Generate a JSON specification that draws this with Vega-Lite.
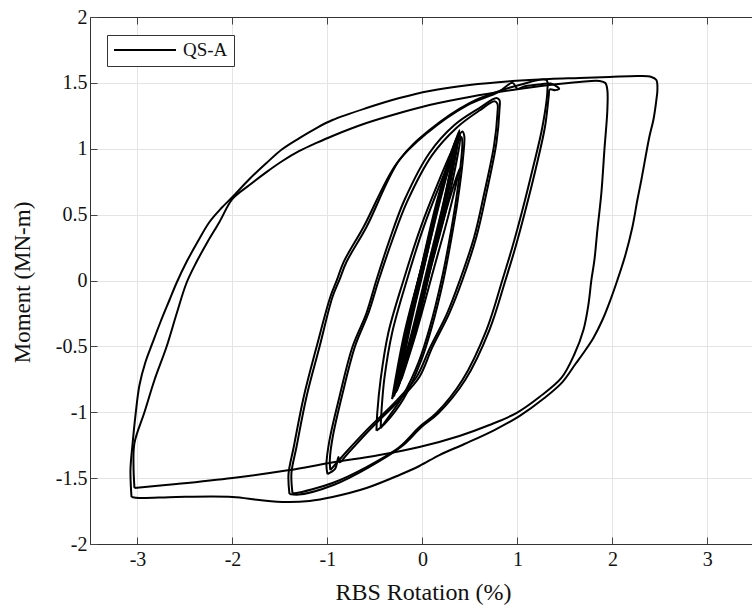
{
  "$schema": "https://vega.github.io/schema/vega-lite/v6.json",
  "width": 662,
  "height": 527,
  "autosize": {"type": "none"},
  "padding": {"left": 90, "top": 17, "right": 0, "bottom": 66},
  "background": "white",
  "config": {"view": {"stroke": null}, "font": "Liberation Serif"},
  "data": {"values": [
    {"l":"b1","x":-0.30,"y":-0.88},{"l":"b1","x":-0.181,"y":-0.4},{"l":"b1","x":-0.010,"y":0.1},{"l":"b1","x":0.161,"y":0.6},{"l":"b1","x":0.39,"y":1.14},{"l":"b1","x":0.251,"y":0.6},{"l":"b1","x":0.080,"y":0.1},{"l":"b1","x":-0.091,"y":-0.4},{"l":"b1","x":-0.30,"y":-0.88},
    {"l":"b2","x":-0.28,"y":-0.85},{"l":"b2","x":-0.165,"y":-0.4},{"l":"b2","x":0.002,"y":0.1},{"l":"b2","x":0.168,"y":0.6},{"l":"b2","x":0.37,"y":1.10},{"l":"b2","x":0.238,"y":0.6},{"l":"b2","x":0.072,"y":0.1},{"l":"b2","x":-0.095,"y":-0.4},{"l":"b2","x":-0.28,"y":-0.85},
    {"l":"b3","x":-0.26,"y":-0.82},{"l":"b3","x":-0.153,"y":-0.4},{"l":"b3","x":0.010,"y":0.1},{"l":"b3","x":0.173,"y":0.6},{"l":"b3","x":0.35,"y":1.05},{"l":"b3","x":0.233,"y":0.6},{"l":"b3","x":0.070,"y":0.1},{"l":"b3","x":-0.093,"y":-0.4},{"l":"b3","x":-0.26,"y":-0.82},
    {"l":"b4","x":-0.24,"y":-0.78},{"l":"b4","x":-0.143,"y":-0.4},{"l":"b4","x":0.017,"y":0.1},{"l":"b4","x":0.177,"y":0.6},{"l":"b4","x":0.33,"y":1.0},{"l":"b4","x":0.227,"y":0.6},{"l":"b4","x":0.067,"y":0.1},{"l":"b4","x":-0.093,"y":-0.4},{"l":"b4","x":-0.24,"y":-0.78},
    {"l":"b5","x":-0.32,"y":-0.90},{"l":"b5","x":-0.19,"y":-0.4},{"l":"b5","x":-0.01,"y":0.1},{"l":"b5","x":0.17,"y":0.6},{"l":"b5","x":0.40,"y":1.10},{"l":"b5","x":0.27,"y":0.6},{"l":"b5","x":0.09,"y":0.1},{"l":"b5","x":-0.09,"y":-0.4},{"l":"b5","x":-0.32,"y":-0.90},
    {"l":"b6","x":-0.22,"y":-0.75},{"l":"b6","x":-0.107,"y":-0.4},{"l":"b6","x":0.084,"y":0.1},{"l":"b6","x":0.236,"y":0.5},{"l":"b6","x":0.39,"y":0.85},{"l":"b6","x":0.276,"y":0.5},{"l":"b6","x":0.124,"y":0.1},{"l":"b6","x":-0.067,"y":-0.4},{"l":"b6","x":-0.22,"y":-0.75},
    {"l":"b7","x":-0.29,"y":-0.86},{"l":"b7","x":-0.154,"y":-0.4},{"l":"b7","x":0.015,"y":0.1},{"l":"b7","x":0.184,"y":0.6},{"l":"b7","x":0.38,"y":1.12},{"l":"b7","x":0.224,"y":0.6},{"l":"b7","x":0.055,"y":0.1},{"l":"b7","x":-0.114,"y":-0.4},{"l":"b7","x":-0.29,"y":-0.86},
    {"l":"b8","x":-0.27,"y":-0.84},{"l":"b8","x":-0.176,"y":-0.4},{"l":"b8","x":-0.012,"y":0.1},{"l":"b8","x":0.152,"y":0.6},{"l":"b8","x":0.36,"y":1.08},{"l":"b8","x":0.252,"y":0.6},{"l":"b8","x":0.088,"y":0.1},{"l":"b8","x":-0.076,"y":-0.4},{"l":"b8","x":-0.27,"y":-0.84},
    {"l":"b9","x":-0.25,"y":-0.80},{"l":"b9","x":-0.160,"y":-0.4},{"l":"b9","x":0.002,"y":0.1},{"l":"b9","x":0.164,"y":0.6},{"l":"b9","x":0.34,"y":1.02},{"l":"b9","x":0.244,"y":0.6},{"l":"b9","x":0.082,"y":0.1},{"l":"b9","x":-0.080,"y":-0.4},{"l":"b9","x":-0.25,"y":-0.80},
    {"l":"E1","x":-0.484,"y":-1.14},{"l":"E1","x":-0.475,"y":-1.0},{"l":"E1","x":-0.44,"y":-0.75},{"l":"E1","x":-0.36,"y":-0.40},{"l":"E1","x":-0.20,"y":0.0},{"l":"E1","x":-0.02,"y":0.40},{"l":"E1","x":0.17,"y":0.75},{"l":"E1","x":0.32,"y":1.0},{"l":"E1","x":0.42,"y":1.13},{"l":"E1","x":0.44,"y":1.10},{"l":"E1","x":0.43,"y":0.95},{"l":"E1","x":0.37,"y":0.60},{"l":"E1","x":0.30,"y":0.30},{"l":"E1","x":0.22,"y":0.0},{"l":"E1","x":0.10,"y":-0.35},{"l":"E1","x":-0.02,"y":-0.62},{"l":"E1","x":-0.20,"y":-0.90},{"l":"E1","x":-0.40,"y":-1.09},{"l":"E1","x":-0.484,"y":-1.14},
    {"l":"E2","x":-0.44,"y":-1.12},{"l":"E2","x":-0.43,"y":-0.98},{"l":"E2","x":-0.40,"y":-0.74},{"l":"E2","x":-0.32,"y":-0.40},{"l":"E2","x":-0.165,"y":0.0},{"l":"E2","x":0.01,"y":0.40},{"l":"E2","x":0.19,"y":0.74},{"l":"E2","x":0.33,"y":0.98},{"l":"E2","x":0.41,"y":1.09},{"l":"E2","x":0.42,"y":1.05},{"l":"E2","x":0.41,"y":0.93},{"l":"E2","x":0.35,"y":0.59},{"l":"E2","x":0.28,"y":0.29},{"l":"E2","x":0.20,"y":0.0},{"l":"E2","x":0.08,"y":-0.35},{"l":"E2","x":-0.04,"y":-0.62},{"l":"E2","x":-0.21,"y":-0.88},{"l":"E2","x":-0.38,"y":-1.06},{"l":"E2","x":-0.44,"y":-1.12},
    {"l":"D1","x":-1.0,"y":-1.469},{"l":"D1","x":-1.011,"y":-1.40},{"l":"D1","x":-0.979,"y":-1.214},{"l":"D1","x":-0.874,"y":-0.884},{"l":"D1","x":-0.737,"y":-0.505},{"l":"D1","x":-0.589,"y":-0.247},{"l":"D1","x":-0.484,"y":0.004},{"l":"D1","x":-0.347,"y":0.307},{"l":"D1","x":-0.189,"y":0.611},{"l":"D1","x":0.074,"y":0.968},{"l":"D1","x":0.337,"y":1.18},{"l":"D1","x":0.6,"y":1.309},{"l":"D1","x":0.779,"y":1.385},{"l":"D1","x":0.811,"y":1.37},{"l":"D1","x":0.811,"y":1.294},{"l":"D1","x":0.779,"y":1.044},{"l":"D1","x":0.674,"y":0.664},{"l":"D1","x":0.568,"y":0.33},{"l":"D1","x":0.421,"y":0.004},{"l":"D1","x":0.284,"y":-0.247},{"l":"D1","x":0.105,"y":-0.505},{"l":"D1","x":-0.032,"y":-0.732},{"l":"D1","x":-0.242,"y":-0.907},{"l":"D1","x":-0.558,"y":-1.135},{"l":"D1","x":-0.80,"y":-1.325},{"l":"D1","x":-0.87,"y":-1.38},{"l":"D1","x":-0.884,"y":-1.34},{"l":"D1","x":-0.92,"y":-1.43},{"l":"D1","x":-1.0,"y":-1.469},
    {"l":"D2","x":-0.97,"y":-1.44},{"l":"D2","x":-0.975,"y":-1.36},{"l":"D2","x":-0.945,"y":-1.19},{"l":"D2","x":-0.845,"y":-0.87},{"l":"D2","x":-0.71,"y":-0.50},{"l":"D2","x":-0.565,"y":-0.24},{"l":"D2","x":-0.46,"y":0.004},{"l":"D2","x":-0.32,"y":0.30},{"l":"D2","x":-0.16,"y":0.60},{"l":"D2","x":0.10,"y":0.95},{"l":"D2","x":0.36,"y":1.16},{"l":"D2","x":0.60,"y":1.29},{"l":"D2","x":0.76,"y":1.36},{"l":"D2","x":0.79,"y":1.34},{"l":"D2","x":0.79,"y":1.27},{"l":"D2","x":0.755,"y":1.03},{"l":"D2","x":0.65,"y":0.66},{"l":"D2","x":0.545,"y":0.33},{"l":"D2","x":0.395,"y":0.004},{"l":"D2","x":0.26,"y":-0.25},{"l":"D2","x":0.08,"y":-0.51},{"l":"D2","x":-0.06,"y":-0.73},{"l":"D2","x":-0.27,"y":-0.91},{"l":"D2","x":-0.58,"y":-1.13},{"l":"D2","x":-0.80,"y":-1.30},{"l":"D2","x":-0.97,"y":-1.44},
    {"l":"C1","x":-1.368,"y":-1.613},{"l":"C1","x":-1.379,"y":-1.46},{"l":"C1","x":-1.326,"y":-1.264},{"l":"C1","x":-1.221,"y":-0.884},{"l":"C1","x":-1.084,"y":-0.505},{"l":"C1","x":-0.947,"y":-0.125},{"l":"C1","x":-0.874,"y":0.004},{"l":"C1","x":-0.8,"y":0.14},{"l":"C1","x":-0.589,"y":0.406},{"l":"C1","x":-0.242,"y":0.915},{"l":"C1","x":0.074,"y":1.142},{"l":"C1","x":0.495,"y":1.347},{"l":"C1","x":0.842,"y":1.446},{"l":"C1","x":1.021,"y":1.484},{"l":"C1","x":1.305,"y":1.522},{"l":"C1","x":1.316,"y":1.446},{"l":"C1","x":1.263,"y":1.165},{"l":"C1","x":1.158,"y":0.839},{"l":"C1","x":1.053,"y":0.535},{"l":"C1","x":0.947,"y":0.254},{"l":"C1","x":0.842,"y":0.004},{"l":"C1","x":0.674,"y":-0.376},{"l":"C1","x":0.421,"y":-0.755},{"l":"C1","x":0.147,"y":-1.006},{"l":"C1","x":-0.032,"y":-1.112},{"l":"C1","x":-0.242,"y":-1.264},{"l":"C1","x":-0.589,"y":-1.416},{"l":"C1","x":-0.947,"y":-1.537},{"l":"C1","x":-1.326,"y":-1.613},{"l":"C1","x":-1.368,"y":-1.613},
    {"l":"C2","x":-1.40,"y":-1.62},{"l":"C2","x":-1.41,"y":-1.47},{"l":"C2","x":-1.355,"y":-1.264},{"l":"C2","x":-1.25,"y":-0.884},{"l":"C2","x":-1.115,"y":-0.505},{"l":"C2","x":-0.97,"y":-0.125},{"l":"C2","x":-0.90,"y":0.004},{"l":"C2","x":-0.83,"y":0.14},{"l":"C2","x":-0.62,"y":0.406},{"l":"C2","x":-0.27,"y":0.89},{"l":"C2","x":0.05,"y":1.12},{"l":"C2","x":0.47,"y":1.33},{"l":"C2","x":0.80,"y":1.43},{"l":"C2","x":0.95,"y":1.50},{"l":"C2","x":1.0,"y":1.455},{"l":"C2","x":1.08,"y":1.475},{"l":"C2","x":1.25,"y":1.49},{"l":"C2","x":1.35,"y":1.495},{"l":"C2","x":1.42,"y":1.47},{"l":"C2","x":1.44,"y":1.455},{"l":"C2","x":1.40,"y":1.445},{"l":"C2","x":1.34,"y":1.45},{"l":"C2","x":1.33,"y":1.40},{"l":"C2","x":1.29,"y":1.165},{"l":"C2","x":1.19,"y":0.839},{"l":"C2","x":1.085,"y":0.535},{"l":"C2","x":0.98,"y":0.254},{"l":"C2","x":0.875,"y":0.004},{"l":"C2","x":0.705,"y":-0.376},{"l":"C2","x":0.45,"y":-0.755},{"l":"C2","x":0.17,"y":-1.006},{"l":"C2","x":-0.01,"y":-1.112},{"l":"C2","x":-0.22,"y":-1.26},{"l":"C2","x":-0.57,"y":-1.42},{"l":"C2","x":-0.93,"y":-1.55},{"l":"C2","x":-1.30,"y":-1.625},{"l":"C2","x":-1.40,"y":-1.62},
    {"l":"B","x":-3.032,"y":-1.575},{"l":"B","x":-3.042,"y":-1.40},{"l":"B","x":-3.032,"y":-1.233},{"l":"B","x":-2.926,"y":-0.998},{"l":"B","x":-2.821,"y":-0.755},{"l":"B","x":-2.695,"y":-0.505},{"l":"B","x":-2.589,"y":-0.254},{"l":"B","x":-2.484,"y":-0.019},{"l":"B","x":-2.379,"y":0.140},{"l":"B","x":-2.263,"y":0.292},{"l":"B","x":-2.137,"y":0.444},{"l":"B","x":-2.0,"y":0.619},{"l":"B","x":-1.821,"y":0.725},{"l":"B","x":-1.642,"y":0.823},{"l":"B","x":-1.474,"y":0.907},{"l":"B","x":-1.295,"y":0.983},{"l":"B","x":-1.116,"y":1.044},{"l":"B","x":-0.947,"y":1.097},{"l":"B","x":-0.589,"y":1.195},{"l":"B","x":-0.242,"y":1.271},{"l":"B","x":0.074,"y":1.332},{"l":"B","x":0.495,"y":1.393},{"l":"B","x":0.947,"y":1.446},{"l":"B","x":1.337,"y":1.484},{"l":"B","x":1.653,"y":1.507},{"l":"B","x":1.863,"y":1.514},{"l":"B","x":1.926,"y":1.499},{"l":"B","x":1.947,"y":1.446},{"l":"B","x":1.947,"y":1.294},{"l":"B","x":1.916,"y":0.991},{"l":"B","x":1.884,"y":0.664},{"l":"B","x":1.842,"y":0.383},{"l":"B","x":1.811,"y":0.156},{"l":"B","x":1.779,"y":0.004},{"l":"B","x":1.747,"y":-0.186},{"l":"B","x":1.695,"y":-0.376},{"l":"B","x":1.6,"y":-0.56},{"l":"B","x":1.463,"y":-0.74},{"l":"B","x":1.232,"y":-0.884},{"l":"B","x":0.989,"y":-1.006},{"l":"B","x":0.705,"y":-1.097},{"l":"B","x":0.389,"y":-1.18},{"l":"B","x":-0.032,"y":-1.264},{"l":"B","x":-0.453,"y":-1.325},{"l":"B","x":-0.979,"y":-1.385},{"l":"B","x":-1.4,"y":-1.439},{"l":"B","x":-2.0,"y":-1.499},{"l":"B","x":-2.589,"y":-1.545},{"l":"B","x":-3.032,"y":-1.575},
    {"l":"A","x":-3.063,"y":-1.643},{"l":"A","x":-3.074,"y":-1.438},{"l":"A","x":-3.053,"y":-1.249},{"l":"A","x":-3.021,"y":-1.021},{"l":"A","x":-2.979,"y":-0.793},{"l":"A","x":-2.916,"y":-0.619},{"l":"A","x":-2.842,"y":-0.474},{"l":"A","x":-2.758,"y":-0.315},{"l":"A","x":-2.663,"y":-0.148},{"l":"A","x":-2.589,"y":-0.019},{"l":"A","x":-2.484,"y":0.140},{"l":"A","x":-2.368,"y":0.292},{"l":"A","x":-2.242,"y":0.444},{"l":"A","x":-2.116,"y":0.550},{"l":"A","x":-2.0,"y":0.634},{"l":"A","x":-1.821,"y":0.771},{"l":"A","x":-1.642,"y":0.892},{"l":"A","x":-1.474,"y":0.998},{"l":"A","x":-1.295,"y":1.081},{"l":"A","x":-1.116,"y":1.157},{"l":"A","x":-0.947,"y":1.218},{"l":"A","x":-0.589,"y":1.309},{"l":"A","x":-0.242,"y":1.385},{"l":"A","x":0.074,"y":1.439},{"l":"A","x":0.495,"y":1.484},{"l":"A","x":0.947,"y":1.514},{"l":"A","x":1.337,"y":1.530},{"l":"A","x":1.653,"y":1.537},{"l":"A","x":1.968,"y":1.545},{"l":"A","x":2.284,"y":1.552},{"l":"A","x":2.411,"y":1.545},{"l":"A","x":2.463,"y":1.522},{"l":"A","x":2.474,"y":1.446},{"l":"A","x":2.463,"y":1.37},{"l":"A","x":2.432,"y":1.22},{"l":"A","x":2.389,"y":1.089},{"l":"A","x":2.305,"y":0.763},{"l":"A","x":2.263,"y":0.611},{"l":"A","x":2.211,"y":0.406},{"l":"A","x":2.137,"y":0.194},{"l":"A","x":2.053,"y":0.004},{"l":"A","x":1.979,"y":-0.148},{"l":"A","x":1.895,"y":-0.300},{"l":"A","x":1.8,"y":-0.436},{"l":"A","x":1.695,"y":-0.550},{"l":"A","x":1.611,"y":-0.634},{"l":"A","x":1.474,"y":-0.771},{"l":"A","x":1.284,"y":-0.892},{"l":"A","x":1.021,"y":-1.029},{"l":"A","x":0.758,"y":-1.135},{"l":"A","x":0.442,"y":-1.241},{"l":"A","x":0.179,"y":-1.325},{"l":"A","x":-0.032,"y":-1.408},{"l":"A","x":-0.242,"y":-1.476},{"l":"A","x":-0.589,"y":-1.575},{"l":"A","x":-0.947,"y":-1.643},{"l":"A","x":-1.19,"y":-1.673},{"l":"A","x":-1.432,"y":-1.681},{"l":"A","x":-1.716,"y":-1.666},{"l":"A","x":-2.0,"y":-1.643},{"l":"A","x":-2.59,"y":-1.643},{"l":"A","x":-2.98,"y":-1.651},{"l":"A","x":-3.063,"y":-1.643}
  ]},
  "resolve": {"axis": {"x": "independent", "y": "independent"}},
  "layer": [
    {
      "mark": {"type": "line", "strokeWidth": 2, "strokeJoin": "round", "interpolate": "catmull-rom", "clip": true},
      "encoding": {
        "x": {"field": "x", "type": "quantitative",
          "scale": {"domain": [-3.5, 3.47], "nice": false, "zero": false},
          "axis": {"title": "RBS Rotation (%)", "values": [-3,-2,-1,0,1,2,3], "labelExpr": "'' + datum.value",
            "grid": true, "gridColor": "#e4e4e4", "tickSize": -7, "tickColor": "#444", "domainColor": "#333",
            "labelFontSize": 20, "labelColor": "#111", "labelPadding": 12, "labelFont": "Liberation Serif",
            "titleFont": "Liberation Serif", "titleFontSize": 24, "titleFontWeight": "normal", "titleColor": "#111",
            "titleX": 333, "titleY": 55, "titleBaseline": "alphabetic", "titleAnchor": "middle"}},
        "y": {"field": "y", "type": "quantitative",
          "scale": {"domain": [-2, 2], "nice": false, "zero": false},
          "axis": {"title": "Moment (MN-m)", "values": [-2,-1.5,-1,-0.5,0,0.5,1,1.5,2], "labelExpr": "'' + datum.value",
            "grid": true, "gridColor": "#e4e4e4", "tickSize": -7, "tickColor": "#444", "domainColor": "#333",
            "labelFontSize": 20, "labelColor": "#111", "labelPadding": 10, "labelFont": "Liberation Serif",
            "titleFont": "Liberation Serif", "titleFontSize": 23, "titleFontWeight": "normal", "titleColor": "#111",
            "titleX": -68, "titleY": 265, "titleBaseline": "middle", "titleAnchor": "middle"}},
        "detail": {"field": "l"},
        "order": {"value": null},
        "color": {"datum": "QS-A", "type": "nominal", "scale": {"range": ["black"]},
          "legend": {"title": null, "orient": "none", "legendX": 17, "legendY": 18,
            "symbolType": "stroke", "symbolSize": 3844, "symbolStrokeWidth": 2, "clipHeight": 18,
            "labelFontSize": 19, "labelFont": "Liberation Serif", "labelColor": "#111", "labelOffset": 6,
            "strokeColor": "#333", "fillColor": "white", "padding": 6, "cornerRadius": 0}}
      }
    },
    {
      "mark": {"type": "point", "opacity": 0},
      "encoding": {
        "x": {"field": "x", "type": "quantitative",
          "axis": {"orient": "top", "title": null, "labels": false, "grid": false, "values": [-3,-2,-1,0,1,2,3],
            "tickSize": -7, "tickColor": "#444", "domainColor": "#333"}},
        "y": {"field": "y", "type": "quantitative", "axis": null}
      }
    }
  ]
}
